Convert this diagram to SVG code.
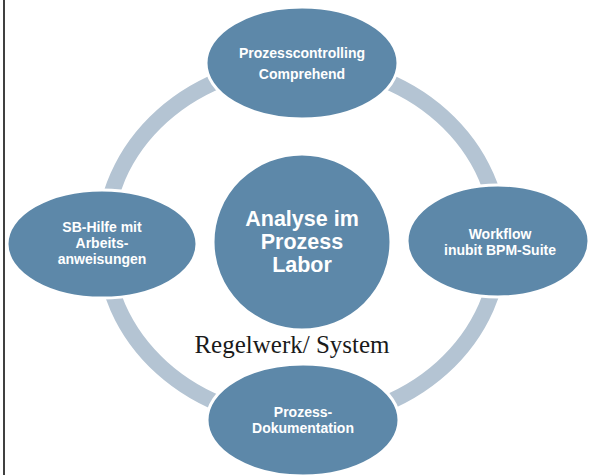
<svg xmlns="http://www.w3.org/2000/svg" width="589" height="475" viewBox="0 0 589 475">
<style>
.node{fill:#5d88a9;stroke:#ffffff;stroke-width:3}
.lbl{font-family:"Liberation Sans",Arial,sans-serif;font-weight:bold;fill:#ffffff;text-anchor:middle;font-size:14px}
.big{font-size:21.5px}
.ring{fill:none;stroke:#b4c4d3;stroke-width:16}
</style>
<rect x="0" y="0" width="589" height="475" fill="#ffffff"/>
<line x1="4" y1="0" x2="4" y2="475" stroke="#404040" stroke-width="2"/>
<g id="connectors">
<ellipse class="ring" cx="302" cy="242" rx="198" ry="178"/>
</g>
<g id="node-top">
<ellipse class="node" cx="302" cy="63" rx="96" ry="56"/>
<text class="lbl" x="302" y="58">Prozesscontrolling</text>
<text class="lbl" x="302" y="79">Comprehend</text>
</g>
<g id="node-left">
<ellipse class="node" cx="102" cy="244" rx="95" ry="54"/>
<text class="lbl" x="102" y="232">SB-Hilfe mit</text>
<text class="lbl" x="102" y="248">Arbeits-</text>
<text class="lbl" x="102" y="264">anweisungen</text>
</g>
<g id="node-right">
<ellipse class="node" cx="498" cy="241" rx="91" ry="56"/>
<text class="lbl" x="500" y="239">Workflow</text>
<text class="lbl" x="500" y="255">inubit BPM-Suite</text>
</g>
<g id="node-bottom">
<ellipse class="node" cx="303" cy="420" rx="96" ry="56"/>
<text class="lbl" x="303" y="417">Prozess-</text>
<text class="lbl" x="303" y="433">Dokumentation</text>
</g>
<g id="node-center">
<ellipse class="node" cx="302" cy="242" rx="89" ry="88"/>
<text class="lbl big" x="302" y="226">Analyse im</text>
<text class="lbl big" x="302" y="249">Prozess</text>
<text class="lbl big" x="302" y="272">Labor</text>
</g>
<text x="292" y="353" font-family="'Liberation Serif','Times New Roman',serif" font-size="25" fill="#1a1a1a" text-anchor="middle">Regelwerk/ System</text>
</svg>
